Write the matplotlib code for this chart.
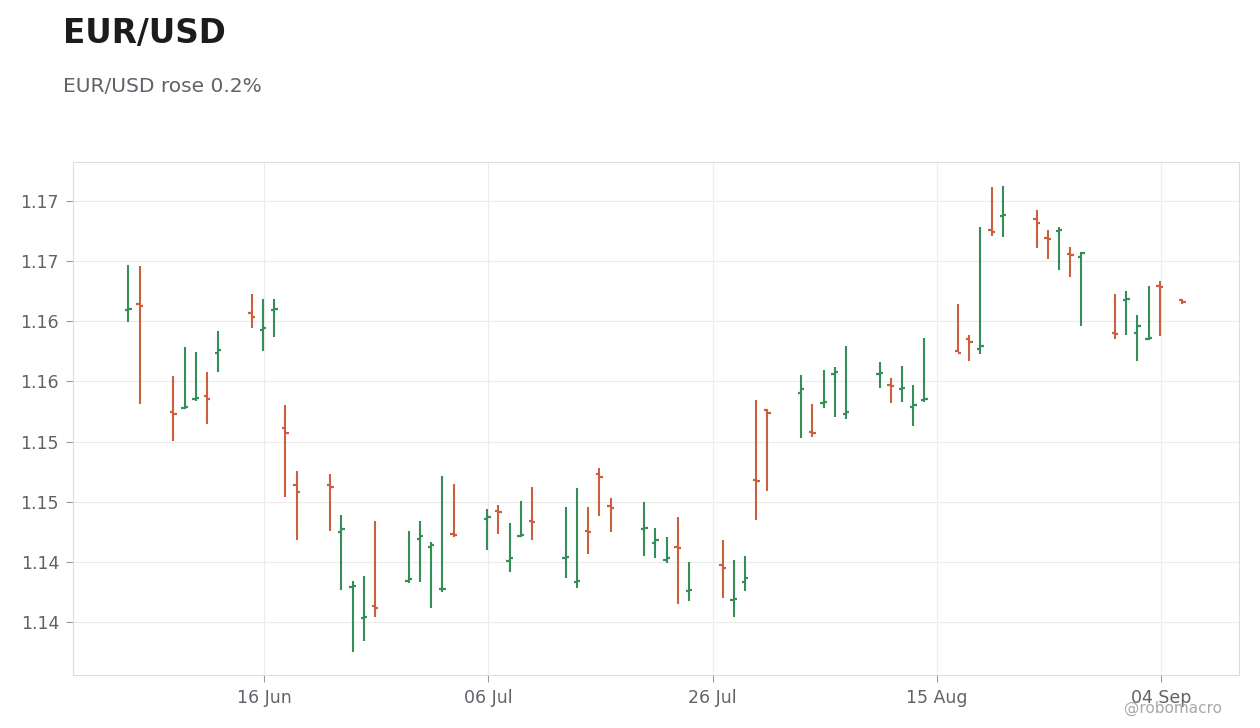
import matplotlib.pyplot as plt
import matplotlib.dates as mdates
import numpy as np
import pandas as pd


# Datos (velas OHLC diarias)
fechas = [
    "2025-06-04", "2025-06-05",
    "2025-06-08", "2025-06-09", "2025-06-10", "2025-06-11", "2025-06-12",
    "2025-06-15", "2025-06-16", "2025-06-17", "2025-06-18", "2025-06-19",
    "2025-06-22", "2025-06-23", "2025-06-24", "2025-06-25", "2025-06-26",
    "2025-06-29", "2025-06-30", "2025-07-01", "2025-07-02", "2025-07-03",
    "2025-07-06", "2025-07-07", "2025-07-08", "2025-07-09", "2025-07-10",
    "2025-07-13", "2025-07-14", "2025-07-15", "2025-07-16", "2025-07-17",
    "2025-07-20", "2025-07-21", "2025-07-22", "2025-07-23", "2025-07-24",
    "2025-07-27", "2025-07-28", "2025-07-29", "2025-07-30", "2025-07-31",
    "2025-08-03", "2025-08-04", "2025-08-05", "2025-08-06", "2025-08-07",
    "2025-08-10", "2025-08-11", "2025-08-12", "2025-08-13", "2025-08-14",
    "2025-08-17", "2025-08-18", "2025-08-19", "2025-08-20", "2025-08-21",
    "2025-08-24", "2025-08-25", "2025-08-26", "2025-08-27", "2025-08-28",
    "2025-08-31", "2025-09-01", "2025-09-02", "2025-09-03", "2025-09-04",
    "2025-09-06",
]

apertura = [
    1.16090, 1.16146,
    1.15248, 1.15275, 1.15352, 1.15381, 1.15739,
    1.16072, 1.15930, 1.16097, 1.15115, 1.14642,
    1.14642, 1.14251, 1.13791, 1.13536, 1.13636,
    1.13843, 1.14193, 1.14126, 1.13774, 1.14234,
    1.14359, 1.14425, 1.14010, 1.14216, 1.14342,
    1.14035, 1.13835, 1.14253, 1.14733, 1.14467,
    1.14274, 1.14159, 1.14018, 1.14126, 1.13760,
    1.13976, 1.13685, 1.13835, 1.14683, 1.15265,
    1.15406, 1.15082, 1.15321, 1.15564, 1.15232,
    1.15562, 1.15473, 1.15438, 1.15290, 1.15348,
    1.15756, 1.15855, 1.15772, 1.16762, 1.16878,
    1.16853, 1.16689, 1.16751, 1.16562, 1.16537,
    1.15905, 1.16178, 1.15905, 1.15852, 1.16294,
    1.16180,
]

maximo = [
    1.16468, 1.16460,
    1.15545, 1.15786, 1.15745, 1.15579, 1.15919,
    1.16227, 1.16185, 1.16185, 1.15304, 1.14755,
    1.14730, 1.14390, 1.13841, 1.13882, 1.14340,
    1.14257, 1.14340, 1.14165, 1.14714, 1.14647,
    1.14439, 1.14473, 1.14321, 1.14506, 1.14622,
    1.14456, 1.14614, 1.14456, 1.14780, 1.14531,
    1.14498, 1.14282, 1.14207, 1.14373, 1.13999,
    1.14182, 1.14015, 1.14049, 1.15346, 1.15268,
    1.15554, 1.15312, 1.15595, 1.15620, 1.15795,
    1.15662, 1.15529, 1.15628, 1.15470, 1.15861,
    1.16144, 1.15886, 1.16784, 1.17117, 1.17125,
    1.16925, 1.16759, 1.16784, 1.16618, 1.16579,
    1.16227, 1.16252, 1.16052, 1.16294, 1.16335,
    1.16185,
]

minimo = [
    1.15997, 1.15315,
    1.15007, 1.15270, 1.15340, 1.15149, 1.15581,
    1.15947, 1.15756, 1.15872, 1.14542, 1.14184,
    1.14259, 1.13769, 1.13253, 1.13345, 1.13544,
    1.13822, 1.13835, 1.13619, 1.13752, 1.14209,
    1.14101, 1.14234, 1.13918, 1.14209, 1.14184,
    1.13868, 1.13785, 1.14068, 1.14384, 1.14251,
    1.14051, 1.14035, 1.13993, 1.13652, 1.13677,
    1.13702, 1.13544, 1.13760, 1.14351, 1.14592,
    1.15032, 1.15041, 1.15282, 1.15207, 1.15190,
    1.15448, 1.15323, 1.15332, 1.15132, 1.15332,
    1.15747, 1.15672, 1.15731, 1.16712, 1.16703,
    1.16612, 1.16520, 1.16429, 1.16371, 1.15963,
    1.15855, 1.15889, 1.15672, 1.15847, 1.15880,
    1.16146,
]

cierre = [
    1.16098, 1.16130,
    1.15232, 1.15290, 1.15358, 1.15357, 1.15761,
    1.16038, 1.15947, 1.16105, 1.15074, 1.14583,
    1.14625, 1.14276, 1.13795, 1.13542, 1.13619,
    1.13860, 1.14218, 1.14138, 1.13777, 1.14223,
    1.14375, 1.14417, 1.14032, 1.14220, 1.14334,
    1.14043, 1.13843, 1.14249, 1.14708, 1.14450,
    1.14278, 1.14182, 1.14035, 1.14118, 1.13769,
    1.13951, 1.13694, 1.13868, 1.14675, 1.15240,
    1.15440, 1.15074, 1.15325, 1.15581, 1.15248,
    1.15566, 1.15465, 1.15442, 1.15307, 1.15357,
    1.15739, 1.15830, 1.15797, 1.16745, 1.16886,
    1.16820, 1.16685, 1.16755, 1.16554, 1.16570,
    1.15897, 1.16182, 1.15963, 1.15858, 1.16288,
    1.16160,
]

ticks_y = [1.135, 1.140, 1.145, 1.150, 1.155, 1.160, 1.165, 1.170]
etiquetas_y = ["1.14", "1.14", "1.15", "1.15", "1.16", "1.16", "1.17", "1.17"]
ticks_x = ["2025-06-16", "2025-07-06", "2025-07-26", "2025-08-15", "2025-09-04"]

titulo = "EUR/USD"
subtitulo = "EUR/USD rose 0.2%"
firma = "@robomacro"

verde = "#358d57"
rojo = "#c9613f"
gris_texto = "#5f6368"

x = mdates.date2num(pd.to_datetime(fechas))
o = np.array(apertura)
h = np.array(maximo)
l = np.array(minimo)
c = np.array(cierre)
colores = [verde if c[i] >= o[i] else rojo for i in range(len(x))]

fig = plt.figure(figsize=(12.6, 7.28), dpi=100)
ax = fig.add_axes([0.0579, 0.0728, 0.9254, 0.7047])

# OHLC: linea maximo-minimo, tick izquierdo = apertura, derecho = cierre
ax.vlines(x - 0.1, l, h, colors=colores, linewidth=1.5, zorder=3)
ax.hlines(o, x - 0.4, x - 0.1, colors=colores, linewidth=1.6, zorder=3)
ax.hlines(c, x - 0.1, x + 0.2, colors=colores, linewidth=1.6, zorder=3)

ax.set_xlim(mdates.date2num(pd.Timestamp("2025-05-29 22:48")),
            mdates.date2num(pd.Timestamp("2025-09-10 23:00")))
ax.set_ylim(1.13059, 1.17324)

ax.set_xticks(mdates.date2num(pd.to_datetime(ticks_x)))
ax.xaxis.set_major_formatter(mdates.DateFormatter("%d %b"))
ax.set_yticks(ticks_y)
ax.set_yticklabels(etiquetas_y)

ax.grid(True, color="#ececec", linewidth=0.8, zorder=0)
ax.set_axisbelow(True)
for lado in ax.spines.values():
    lado.set_color("#dddddd")
    lado.set_linewidth(0.8)
ax.tick_params(axis="both", colors="#9a9a9a", length=5, width=0.8,
               labelsize=12.5, labelcolor=gris_texto)
ax.tick_params(axis="x", pad=5)
ax.tick_params(axis="y", pad=5)

fig.text(0.05, 0.941, titulo, fontsize=23.5, fontweight="bold", color="#1c1c1f")
fig.text(0.05, 0.873, subtitulo, fontsize=14.5, color=gris_texto)
fig.text(0.970, 0.021, firma, fontsize=11, color="#a9a9ad", ha="right")

plt.savefig("out.png", dpi=100)
